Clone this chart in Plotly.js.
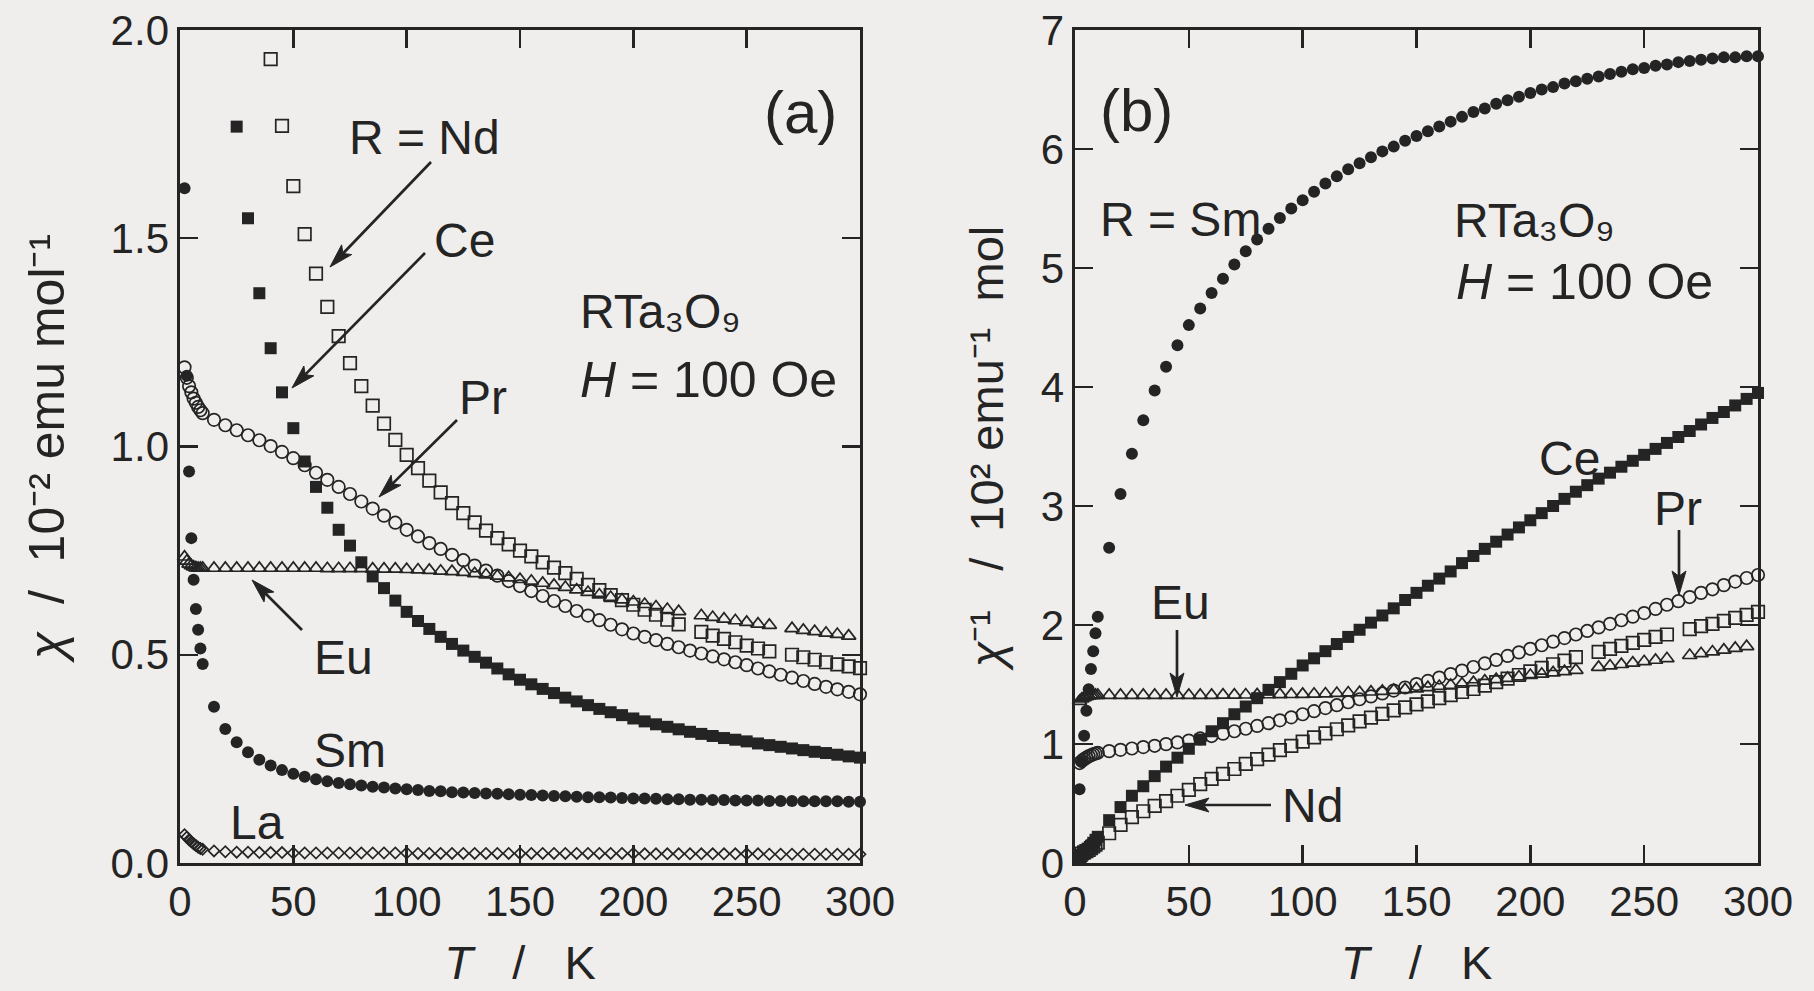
<!DOCTYPE html>
<html>
<head>
<meta charset="utf-8">
<script src="https://cdn.plot.ly/plotly-3.0.1.min.js"></script>
<style>
html,body{margin:0;padding:0;background:#efeeec;}
#chart{width:1814px;height:991px;}
</style>
</head>
<body>
<div id="chart"></div>
<script>
// ---------- data ----------
const xTicks = [0, 50, 100, 150, 200, 250, 300];
const yTicksA = [0, 0.5, 1.0, 1.5, 2.0];
const yTickTextA = ['0.0', '0.5', '1.0', '1.5', '2.0'];
const yTicksB = [0, 1, 2, 3, 4, 5, 6, 7];

// temperature grids (K)
const T_all = [2,3,4,5,6,7,8,9,10,15,20,25,30,35,40,45,50,55,60,65,70,75,80,85,90,95,100,
  105,110,115,120,125,130,135,140,145,150,155,160,165,170,175,180,185,190,195,200,
  205,210,215,220,225,230,235,240,245,250,255,260,265,270,275,280,285,290,295,300];
const T_eu = [2,3,4,5,6,7,8,9,10,15,20,25,30,35,40,45,50,55,60,65,70,75,80,85,90,95,100,
  105,110,115,120,125,130,135,140,145,150,155,160,165,170,175,180,185,190,195,200,205,210,215,220,
  230,235,240,245,250,255,260,270,275,280,285,290,295];
const T_nd_a = [40,45,50,55,60,65,70,75,80,85,90,95,100,
  105,110,115,120,125,130,135,140,145,150,155,160,165,170,175,180,185,190,195,200,205,210,215,220,
  230,235,240,245,250,255,260,270,275,280,285,290,295,300];
const T_nd_b = [2,3,4,5,6,7,8,9,10,15,20,25,30,35,40,45,50,55,60,65,70,75,80,85,90,95,100,
  105,110,115,120,125,130,135,140,145,150,155,160,165,170,175,180,185,190,195,200,205,210,215,220,
  230,235,240,245,250,255,260,270,275,280,285,290,295,300];
const T_ce_a = [25,30,35,40,45,50,55,60,65,70,75,80,85,90,95,100,
  105,110,115,120,125,130,135,140,145,150,155,160,165,170,175,180,185,190,195,200,
  205,210,215,220,225,230,235,240,245,250,255,260,265,270,275,280,285,290,295,300];

// panel (a): chi / 10^-2 emu mol^-1
const chi_La = [0.068,0.062,0.056,0.051,0.046,0.042,0.038,0.035,0.033,
  0.029,0.027,0.026,0.026,0.025,0.025,0.025,0.024,0.024,0.024,0.024,0.024,0.024,0.024,0.024,0.024,0.024,0.024,
  0.023,0.023,0.023,0.023,0.023,0.023,0.023,0.023,0.023,0.023,0.023,0.023,0.023,0.023,0.023,0.023,0.023,0.023,0.023,0.023,
  0.022,0.022,0.022,0.022,0.022,0.022,0.022,0.022,0.022,0.022,0.022,0.021,0.021,0.021,0.021,0.021,0.021,0.021,0.021,0.021];
const chi_Sm = [1.62,1.17,0.94,0.78,0.68,0.61,0.56,0.515,0.478,
  0.375,0.322,0.29,0.266,0.248,0.234,0.223,0.214,0.207,0.201,0.196,0.192,0.189,0.186,0.183,0.181,0.179,0.177,
  0.175,0.173,0.172,0.170,0.169,0.168,0.167,0.166,0.165,0.164,0.163,0.162,0.161,0.160,0.159,0.158,0.158,0.157,0.156,0.155,
  0.155,0.154,0.153,0.153,0.152,0.152,0.151,0.151,0.150,0.150,0.150,0.149,0.149,0.149,0.148,0.148,0.148,0.148,0.147,0.147];
const chi_Pr = [1.19,1.165,1.145,1.13,1.115,1.105,1.095,1.087,1.08,
  1.064,1.051,1.039,1.027,1.015,1.001,0.987,0.972,0.955,0.937,0.92,0.903,0.886,0.868,0.851,0.834,0.817,0.80,
  0.784,0.768,0.754,0.740,0.727,0.714,0.702,0.690,0.677,0.665,0.653,0.641,0.629,0.617,0.605,0.594,0.583,0.572,0.561,0.551,
  0.543,0.535,0.526,0.518,0.510,0.503,0.496,0.489,0.482,0.475,0.467,0.460,0.452,0.445,0.437,0.430,0.423,0.417,0.411,0.405];
const chi_Eu = [0.735,0.725,0.718,0.714,0.711,0.709,0.708,0.708,0.708,
  0.708,0.708,0.708,0.708,0.708,0.708,0.708,0.708,0.708,0.708,0.707,0.707,0.707,0.707,0.706,0.706,0.706,0.705,
  0.704,0.703,0.701,0.700,0.698,0.695,0.692,0.689,0.685,0.681,0.677,0.672,0.667,0.662,0.656,0.650,0.644,0.638,0.632,0.627,0.621,0.615,0.609,0.604,
  0.594,0.590,0.586,0.582,0.578,0.574,0.571,
  0.563,0.559,0.556,0.552,0.549,0.545];
const chi_Nd = [1.93,1.77,1.625,1.51,1.415,1.335,1.265,1.20,1.145,1.098,1.055,1.016,
  0.98,0.948,0.918,0.89,0.864,0.84,0.818,0.798,0.78,0.765,0.75,0.736,0.722,0.709,0.696,0.682,0.668,0.655,0.643,0.631,0.62,0.608,0.596,0.584,0.573,
  0.555,0.546,0.538,0.530,0.522,0.515,0.508,
  0.50,0.494,0.488,0.482,0.477,0.472,0.468];
const chi_Ce = [1.768,1.548,1.368,1.236,1.13,1.044,0.964,0.903,0.853,0.80,0.762,0.722,0.688,0.66,0.63,
  0.603,0.581,0.562,0.543,0.526,0.51,0.495,0.481,0.467,0.453,0.44,0.429,0.418,0.408,0.397,0.388,0.379,0.37,0.362,0.355,0.347,
  0.34,0.333,0.327,0.321,0.315,0.31,0.305,0.30,0.296,0.292,0.287,0.283,0.279,0.275,0.271,0.267,0.264,0.26,0.256,0.253];

// panel (b): chi^-1 / 10^2 emu^-1 mol
const inv_Sm = [0.62,0.85,1.07,1.28,1.46,1.63,1.78,1.93,2.07,
  2.65,3.10,3.44,3.72,3.97,4.17,4.35,4.52,4.66,4.79,4.91,5.03,5.14,5.24,5.33,5.42,5.50,5.57,
  5.64,5.71,5.77,5.83,5.88,5.93,5.98,6.02,6.07,6.11,6.15,6.19,6.23,6.27,6.31,6.34,6.38,6.41,6.44,6.47,
  6.50,6.52,6.55,6.57,6.59,6.61,6.63,6.65,6.67,6.68,6.70,6.71,6.73,6.74,6.75,6.76,6.77,6.77,6.78,6.78];
const inv_Ce = [0.04,0.06,0.08,0.10,0.12,0.145,0.17,0.195,0.22,
  0.36,0.47,0.565,0.645,0.73,0.81,0.885,0.96,1.037,1.107,1.175,1.25,1.315,1.385,1.455,1.52,1.59,1.66,
  1.72,1.78,1.84,1.90,1.96,2.02,2.08,2.14,2.21,2.27,2.33,2.39,2.45,2.52,2.58,2.64,2.70,2.76,2.82,2.88,
  2.94,3.00,3.06,3.12,3.175,3.23,3.28,3.33,3.38,3.43,3.48,3.53,3.58,3.63,3.685,3.74,3.79,3.845,3.90,3.95];
const inv_Pr = [0.84,0.858,0.873,0.885,0.897,0.905,0.913,0.92,0.926,
  0.94,0.951,0.962,0.974,0.985,0.999,1.013,1.029,1.047,1.067,1.087,1.107,1.128,1.152,1.175,1.199,1.224,1.25,
  1.276,1.302,1.326,1.351,1.376,1.40,1.425,1.449,1.475,1.503,1.53,1.558,1.588,1.617,1.647,1.677,1.707,1.74,1.77,1.80,
  1.83,1.86,1.89,1.92,1.95,1.98,2.01,2.04,2.07,2.10,2.135,2.17,2.20,2.235,2.27,2.30,2.335,2.365,2.395,2.42];
const inv_Nd = [0.06,0.08,0.09,0.10,0.11,0.125,0.14,0.155,0.17,
  0.25,0.32,0.385,0.435,0.48,0.52,0.565,0.615,0.662,0.707,0.749,0.79,0.833,0.873,0.91,0.948,0.984,1.02,
  1.055,1.09,1.124,1.157,1.19,1.222,1.253,1.282,1.307,1.333,1.359,1.385,1.41,1.437,1.462,1.49,1.52,1.55,1.58,1.61,1.64,1.67,1.70,1.73,
  1.775,1.80,1.825,1.85,1.875,1.90,1.92,
  1.965,1.99,2.01,2.035,2.06,2.085,2.11];
const inv_Eu = [1.36,1.38,1.39,1.40,1.405,1.41,1.41,1.41,1.41,
  1.41,1.41,1.41,1.41,1.41,1.41,1.41,1.41,1.41,1.41,1.412,1.412,1.413,1.414,1.415,1.416,1.417,1.418,
  1.42,1.422,1.426,1.43,1.433,1.438,1.444,1.452,1.458,1.465,1.475,1.485,1.495,1.505,1.517,1.53,1.542,1.553,1.565,1.577,1.588,1.599,1.61,1.62,
  1.645,1.657,1.669,1.681,1.693,1.705,1.718,
  1.745,1.76,1.775,1.79,1.805,1.82];

// ---------- drawing ----------
const W = 1814, H = 991;
const INK = '#242424';
const FONT = '"Liberation Sans", Arial, Helvetica, sans-serif';
const px = x => x / W;
const py = y => 1 - y / H;

function series(name, x, y, xa, ya, symbol, size, filled) {
  return {
    type: 'scatter', mode: 'markers', name: name, x: x, y: y, xaxis: xa, yaxis: ya,
    cliponaxis: false, showlegend: false, hoverinfo: 'skip',
    marker: {symbol: symbol, size: size, color: INK,
             line: {color: INK, width: filled ? 0 : 1.7}}
  };
}

const data = [
  series('La', T_all, chi_La, 'x', 'y', 'diamond-open', 8.5, false),
  series('Sm', T_all, chi_Sm, 'x', 'y', 'circle', 12, true),
  series('Ce', T_ce_a, chi_Ce, 'x', 'y', 'square', 12, true),
  series('Pr', T_all, chi_Pr, 'x', 'y', 'circle-open', 12.5, false),
  series('Nd', T_nd_a, chi_Nd, 'x', 'y', 'square-open', 12.5, false),
  series('Eu', T_eu, chi_Eu, 'x', 'y', 'triangle-up-open', 12.5, false),

  series('Sm', T_all, inv_Sm, 'x2', 'y2', 'circle', 12, true),
  series('Ce', T_all, inv_Ce, 'x2', 'y2', 'square', 12, true),
  series('Pr', T_all, inv_Pr, 'x2', 'y2', 'circle-open', 12.5, false),
  series('Nd', T_nd_b, inv_Nd, 'x2', 'y2', 'square-open', 12.5, false),
  series('Eu', T_eu, inv_Eu, 'x2', 'y2', 'triangle-up-open', 12.5, false)
];

const sp = '\u00a0';
const titleFont = {family: FONT, size: 47, color: INK};
const yTitleFont = {family: FONT, size: 50, color: INK};

const axBase = {
  showline: true, linewidth: 2.6, linecolor: INK, mirror: 'ticks',
  ticks: 'inside', ticklen: 18, tickwidth: 2.4, tickcolor: INK,
  showgrid: false, zeroline: false, fixedrange: true,
  tickfont: {family: FONT, size: 42, color: INK}
};

const TXT = 48;
function label(text, x, y, opts) {
  return Object.assign({
    text: text, x: px(x), y: py(y), xref: 'paper', yref: 'paper',
    showarrow: false, xanchor: 'center', yanchor: 'middle',
    font: {family: FONT, size: TXT, color: INK}
  }, opts || {});
}

// arrows drawn as shapes: a shaft plus a pointed head
function arrowShapes(tailX, tailY, tipX, tipY) {
  const dx = tipX - tailX, dy = tipY - tailY;
  const len = Math.hypot(dx, dy);
  const ux = dx / len, uy = dy / len;
  const nx = -uy, ny = ux;
  const L = 24, w = 7;
  const bx = tipX - ux * L, by = tipY - uy * L;
  const mx = tipX - ux * L * 0.78, my = tipY - uy * L * 0.78;
  const P = (x, y) => px(x).toFixed(5) + ',' + py(y).toFixed(5);
  return [
    {type: 'line', xref: 'paper', yref: 'paper',
     x0: px(tailX), y0: py(tailY), x1: px(mx), y1: py(my),
     line: {color: INK, width: 2.7}},
    {type: 'path', xref: 'paper', yref: 'paper',
     path: 'M' + P(tipX, tipY) + ' L' + P(bx + nx * w, by + ny * w) + ' L' + P(mx, my) +
           ' L' + P(bx - nx * w, by - ny * w) + ' Z',
     fillcolor: INK, line: {color: INK, width: 1}}
  ];
}

const shapes = [].concat(
  arrowShapes(431, 162, 330, 267),
  arrowShapes(425, 253, 292, 388),
  arrowShapes(457, 420, 379, 497),
  arrowShapes(302, 630, 252, 580),
  arrowShapes(1679, 530, 1679, 595),
  arrowShapes(1177, 630, 1177, 697),
  arrowShapes(1271, 805, 1185, 805)
);

const formula = 'RTa\u2083O\u2089';
const field = '<i>H</i> = 100 Oe';

const annotations = [
  // panel (a)
  label('(a)', 800, 112, {font: {family: FONT, size: 60, color: INK}}),
  label('R = Nd', 424, 138),
  label('Ce', 464, 240),
  label('Pr', 483, 397),
  label(formula, 578, 312, {xanchor: 'left', font: {family: FONT, size: 48, color: INK}}),
  label(field, 578, 380, {xanchor: 'left', font: {family: FONT, size: 50, color: INK}}),
  label('Eu', 343, 657),
  label('Sm', 350, 750),
  label('La', 257, 822),

  // panel (b)
  label('(b)', 1136, 110, {font: {family: FONT, size: 60, color: INK}}),
  label('R = Sm', 1180, 219),
  label(formula, 1452, 220, {xanchor: 'left', font: {family: FONT, size: 48, color: INK}}),
  label(field, 1454, 282, {xanchor: 'left', font: {family: FONT, size: 50, color: INK}}),
  label('Ce', 1569, 458),
  label('Pr', 1678, 508),
  label('Eu', 1180, 602),
  label('Nd', 1312, 805)
];

const xTitle = '<i>T</i>' + sp + sp + sp + '/' + sp + sp + sp + 'K';
const yTitleA = '<i>χ</i>' + sp + sp + '/' + sp + sp + '10\u207B\u00B2' + sp + 'emu' + sp + 'mol\u207B\u00B9' +
  sp + sp + sp + sp + sp;
const yTitleB = '<i>χ</i>\u207B\u00B9' + sp + sp + sp + '/' + sp + sp + '10\u00B2' + sp + 'emu\u207B\u00B9' + sp + sp + 'mol' +
  sp + sp + sp + sp + sp + sp;

const layout = {
  width: W, height: H,
  margin: {l: 0, r: 0, t: 0, b: 0, pad: 0},
  paper_bgcolor: '#efeeec', plot_bgcolor: '#efeeec',
  showlegend: false,
  font: {family: FONT, color: INK},
  xaxis: Object.assign({}, axBase, {domain: [px(180), px(860)], range: [0, 300],
    tickmode: 'array', tickvals: xTicks, ticktext: xTicks.map(String), anchor: 'y',
    title: {text: xTitle, font: titleFont, standoff: 22}}),
  yaxis: Object.assign({}, axBase, {domain: [py(863), py(30)], range: [0, 2],
    tickmode: 'array', tickvals: yTicksA, ticktext: yTickTextA, anchor: 'x',
    title: {text: yTitleA, font: yTitleFont, standoff: 30}}),
  xaxis2: Object.assign({}, axBase, {domain: [px(1075), px(1758)], range: [0, 300],
    tickmode: 'array', tickvals: xTicks, ticktext: xTicks.map(String), anchor: 'y2',
    title: {text: xTitle, font: titleFont, standoff: 22}}),
  yaxis2: Object.assign({}, axBase, {domain: [py(863), py(30)], range: [0, 7],
    tickmode: 'array', tickvals: yTicksB, ticktext: yTicksB.map(String), anchor: 'x2',
    title: {text: yTitleB, font: titleFont, standoff: 22}}),
  shapes: shapes,
  annotations: annotations
};

Plotly.newPlot('chart', data, layout, {displayModeBar: false, staticPlot: true});
</script>
</body>
</html>
